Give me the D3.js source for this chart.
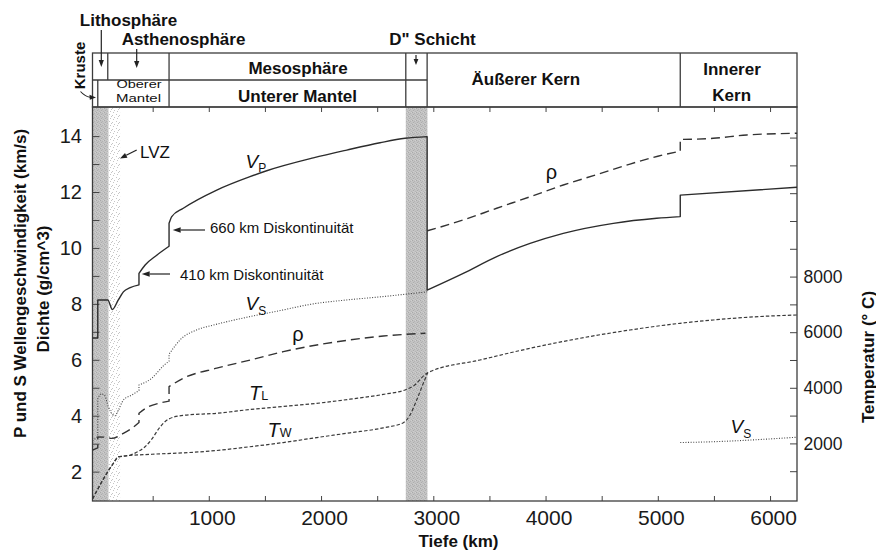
<!DOCTYPE html>
<html>
<head>
<meta charset="utf-8">
<script src="https://cdn.jsdelivr.net/npm/d3@7"></script>
<style>
  body { margin: 0; background: #fff; }
  svg { display: block; font-family: "Liberation Sans", Arial, Helvetica, sans-serif; }
</style>
</head>
<body>
<svg id="chart" width="876" height="554"></svg>
<script>
// ---- Earth model profiles: [depth km, value]; a repeated depth marks a discontinuity ----
// P-wave velocity (km/s)
const vp = [[-36, 6.78], [11, 6.78], [11, 8.14], [100, 8.14], [141, 7.80], [194, 8.14], [239, 8.43],
  [300, 8.58], [378, 8.68], [378, 9.09], [433, 9.39], [536, 9.74], [646, 10.06], [646, 10.88],
  [670, 11.12], [773, 11.42], [1071, 12.07], [1367, 12.55], [1516, 12.76], [1931, 13.22],
  [2229, 13.50], [2525, 13.76], [2748, 13.92], [2945, 13.98], [2945, 8.49], [3267, 9.09],
  [3565, 9.69], [3862, 10.16], [4158, 10.52], [4604, 10.88], [4990, 11.06], [5200, 11.12],
  [5200, 11.89], [6240, 12.17]];
// S-wave velocity, mantle (km/s)
const vsMantle = [[-36, 3.10], [11, 3.25], [11, 4.60], [40, 4.78], [70, 4.74], [105, 4.32], [141, 4.05],
  [165, 4.00], [194, 4.20], [239, 4.56], [314, 4.74], [378, 4.90], [378, 5.10], [492, 5.34],
  [600, 5.80], [646, 5.95], [646, 6.20], [700, 6.50], [744, 6.71], [893, 7.07], [1040, 7.24],
  [1338, 7.52], [1635, 7.76], [1931, 8.00], [2229, 8.14], [2525, 8.25], [2945, 8.43]];
// S-wave velocity, inner core (km/s)
const vsInnerCore = [[5200, 3.04], [5494, 3.07], [6240, 3.23]];
// density, mantle (g/cm^3)
const rhoMantle = [[-36, 2.77], [11, 2.85], [11, 3.24], [91, 3.23], [135, 3.19], [239, 3.37], [314, 3.55],
  [378, 3.76], [378, 4.09], [461, 4.32], [560, 4.45], [646, 4.52], [646, 5.04], [773, 5.34],
  [1071, 5.70], [1367, 5.99], [1664, 6.29], [1962, 6.53], [2258, 6.71], [2555, 6.85], [2930, 6.95]];
// density, core (g/cm^3)
const rhoCore = [[2945, 10.61], [3267, 11.00], [3565, 11.42], [3862, 11.83], [4158, 12.25],
  [4455, 12.62], [4752, 13.00], [5000, 13.28], [5200, 13.46], [5200, 13.88], [5494, 13.92],
  [5792, 14.04], [6240, 14.10]];
// temperature T_L (°C), continues through the core
const tempL = [[-36, 0], [150, 1284], [194, 1500], [300, 1580], [343, 1650], [432, 1880], [492, 2150],
  [560, 2560], [640, 2870], [773, 3010], [1071, 3083], [1367, 3220], [1664, 3330], [1962, 3441],
  [2258, 3590], [2555, 3763], [2763, 3946], [2822, 4065], [2950, 4543], [3416, 5000], [3862, 5421],
  [4307, 5781], [4752, 6079], [5198, 6320], [5494, 6439], [5792, 6536], [6240, 6619]];
// temperature T_W (°C), mantle
const tempW = [[-36, 0], [150, 1284], [194, 1522], [492, 1610], [773, 1660], [1071, 1745], [1367, 1880],
  [1664, 2030], [1962, 2210], [2258, 2380], [2555, 2560], [2733, 2745], [2793, 3022], [2852, 3561],
  [2911, 4161], [2950, 4543]];

// layer boundaries (km) used by the header table
const krusteKm = 11, lithoKm = 100, mesoKm = 646, dSchichtKm = 2755, cmbKm = 2945, icbKm = 5200;
// shaded depth bands (km)
const lithoBand = [-36, 108], lvzBand = [108, 210], dppBand = [2755, 2948];

// axis ticks
const depthTicks = d3.range(500, 6001, 500);
const velTicks = d3.range(2, 15, 1);
const tempTicks = d3.range(1000, 14000, 1000);

// ---- scales ----
const svg = d3.select("#chart");
const L = 92.5, R = 797, T = 107, B = 501, HT = 53, HM = 80;
const x = d3.scaleLinear().domain([-36, 6240]).range([L, R]);
const y = d3.scaleLinear().domain([0.95, 15.04]).range([B, T]);
const yT = d3.scaleLinear().domain([-72, 14100]).range([B, T]);

// ---- stipple patterns ----
const defs = svg.append("defs");
const pd = defs.append("pattern").attr("id", "stipDark").attr("patternUnits", "userSpaceOnUse")
  .attr("width", 4).attr("height", 4);
pd.append("rect").attr("width", 4).attr("height", 4).attr("fill", "#c3c3c3");
[[0, 0, "#a9a9a9"], [2, 1, "#b3b3b3"], [1, 2, "#adadad"], [3, 3, "#b6b6b6"], [3, 0, "#d0d0d0"], [1, 3, "#cccccc"]]
  .forEach(([a, b, c]) => pd.append("rect").attr("x", a).attr("y", b).attr("width", 1).attr("height", 1).attr("fill", c));
const pl = defs.append("pattern").attr("id", "stipLight").attr("patternUnits", "userSpaceOnUse")
  .attr("width", 7).attr("height", 7);
pl.append("rect").attr("width", 7).attr("height", 7).attr("fill", "#fff");
[[1, 0], [4, 2], [0, 3], [6, 4], [2, 5], [5, 6]].forEach(([a, b]) =>
  pl.append("rect").attr("x", a).attr("y", b).attr("width", 1).attr("height", 1).attr("fill", "#c6c6c6"));
defs.append("clipPath").attr("id", "plotClip").append("rect")
  .attr("x", L).attr("y", T).attr("width", R - L).attr("height", B - T);

// ---- bands ----
const bands = svg.append("g");
function band(r, fill) {
  bands.append("rect").attr("x", x(r[0])).attr("y", T).attr("width", x(r[1]) - x(r[0]))
    .attr("height", B - T).attr("fill", fill);
}
band(lithoBand, "url(#stipDark)");
band(lvzBand, "url(#stipLight)");
band(dppBand, "url(#stipDark)");

// ---- axes (ticks point inward) ----
const tickColor = "#444";
function styleAxis(g, size, color) {
  g.select(".domain").remove();
  g.selectAll(".tick line").attr("stroke", tickColor).attr("stroke-width", 1);
  g.selectAll("text").attr("font-family", "'Liberation Sans', Arial, sans-serif")
    .attr("font-size", size).attr("fill", color);
}
const axB = svg.append("g").attr("transform", `translate(0,${B})`)
  .call(d3.axisBottom(x).tickValues(depthTicks).tickSize(-5).tickPadding(9)
    .tickFormat(d => d % 1000 === 0 ? d : ""));
styleAxis(axB, 21, "#1a1a1a");
axB.selectAll("text").attr("dx", 3);
const axTop = svg.append("g").attr("transform", `translate(0,${T})`)
  .call(d3.axisTop(x).tickValues(depthTicks).tickSize(-5).tickFormat(""));
styleAxis(axTop, 10, "#000");
const axL = svg.append("g").attr("transform", `translate(${L},0)`)
  .call(d3.axisLeft(y).tickValues(velTicks).tickSize(-7).tickPadding(10.5)
    .tickFormat(d => d % 2 === 0 ? d : ""));
styleAxis(axL, 20, "#1a1a1a");
const axR = svg.append("g").attr("transform", `translate(${R},0)`)
  .call(d3.axisRight(yT).tickValues(tempTicks).tickSize(-7).tickPadding(6.5)
    .tickFormat(d => (d >= 2000 && d <= 8000 && d % 2000 === 0) ? d : ""));
styleAxis(axR, 17.5, "#1a1a1a");

// ---- frame and header table ----
const frame = svg.append("g").attr("fill", "none").attr("stroke", "#3c3c3c").attr("stroke-width", 1.3);
frame.append("rect").attr("x", L).attr("y", T).attr("width", R - L).attr("height", B - T);
frame.append("rect").attr("x", L).attr("y", HT).attr("width", R - L).attr("height", T - HT);
frame.append("line").attr("x1", L).attr("x2", x(cmbKm)).attr("y1", HM).attr("y2", HM);
function vline(km, y1, y2) {
  frame.append("line").attr("x1", x(km)).attr("x2", x(km)).attr("y1", y1).attr("y2", y2);
}
vline(lithoKm, HT, HM);
vline(krusteKm, HM, T);
[mesoKm, dSchichtKm, cmbKm, icbKm].forEach(k => vline(k, HT, T));

// ---- curves ----
function pathFor(pts, ys) {
  const segs = [];
  let cur = [pts[0]];
  for (let i = 1; i < pts.length; i++) {
    if (pts[i][0] === pts[i - 1][0]) { segs.push(cur); cur = [pts[i]]; }
    else cur.push(pts[i]);
  }
  segs.push(cur);
  const gen = d3.line().x(d => x(d[0])).y(d => ys(d[1])).curve(d3.curveMonotoneX);
  return segs.map((s, i) => { const d = gen(s); return i === 0 ? d : "L" + d.slice(1); }).join("");
}
const curves = svg.append("g").attr("clip-path", "url(#plotClip)").attr("fill", "none");
function curve(pts, ys, stroke, width, dash) {
  const p = curves.append("path").attr("d", pathFor(pts, ys)).attr("stroke", stroke)
    .attr("stroke-width", width).attr("stroke-linejoin", "round");
  if (dash) p.attr("stroke-dasharray", dash);
}
curve(tempW, yT, "#3a3a3a", 1.2, "3.5 2");
curve(tempL, yT, "#3a3a3a", 1.2, "3.5 2");
curve(rhoMantle, y, "#333", 1.4, "9 5");
curve(rhoCore, y, "#333", 1.4, "9 5");
curve(vsMantle, y, "#444", 1.1, "1 1.6");
curve(vsInnerCore, y, "#444", 1.1, "1 1.6");
curve(vp, y, "#2c2c2c", 1.4, null);

// ---- arrows ----
const ann = svg.append("g");
function arrow(x1, y1, x2, y2, head = 7, w = 2.7) {
  const dx = x2 - x1, dy = y2 - y1, len = Math.hypot(dx, dy), ux = dx / len, uy = dy / len;
  const bx = x2 - ux * head, by = y2 - uy * head;
  ann.append("line").attr("x1", x1).attr("y1", y1).attr("x2", bx).attr("y2", by)
    .attr("stroke", "#222").attr("stroke-width", 1.2);
  ann.append("path").attr("d", `M${x2},${y2}L${bx - uy * w},${by + ux * w}L${bx + uy * w},${by - ux * w}Z`)
    .attr("fill", "#222");
}
arrow(101.3, 30, 101.3, 67, 7, 2.6);
arrow(136.7, 49, 136.7, 68, 7, 2.6);
arrow(416, 55, 416, 65, 6, 2.4);
arrow(136.7, 150, 120, 158.5, 7, 2.7);
arrow(205, 230, 172.7, 230, 8, 2.8);
arrow(170, 274, 141.7, 274, 8, 2.8);
ann.append("path").attr("d", "M80.5,91.5Q85,96.5 90,97.2").attr("fill", "none")
  .attr("stroke", "#222").attr("stroke-width", 1.1);
ann.append("path").attr("d", "M96,97.6L89.5,94.8L89.8,99.8Z").attr("fill", "#222");

// ---- text ----
const txt = svg.append("g").attr("fill", "#111");
function label(s, px, py, size, weight, anchor = "middle") {
  return txt.append("text").attr("x", px).attr("y", py).attr("font-size", size)
    .attr("font-weight", weight).attr("text-anchor", anchor).text(s);
}
label("Lithosphäre", 128.5, 26, 17, "bold");
label("Asthenosphäre", 183.5, 45, 17, "bold");
label("D\" Schicht", 432.5, 45, 17, "bold");
label("Mesosphäre", 298, 74, 17, "bold");
label("Unterer Mantel", 297.5, 101.5, 17, "bold");
label("Äußerer Kern", 525.8, 85, 17, "bold");
label("Innerer", 732, 75, 17, "bold");
label("Kern", 731.7, 101, 17, "bold");
// narrow two-line cell label
label("Oberer", 139, 88.3, 11.5, "normal").attr("textLength", 45).attr("lengthAdjust", "spacingAndGlyphs");
label("Mantel", 138.5, 101.5, 11.5, "normal").attr("textLength", 45).attr("lengthAdjust", "spacingAndGlyphs");
txt.append("text").attr("transform", "translate(84.5,65.5) rotate(-90)").attr("text-anchor", "middle")
  .attr("font-size", 15).attr("font-weight", "bold").text("Kruste");

label("LVZ", 140, 158.3, 17, "normal", "start");
label("660 km Diskontinuität", 210, 233.3, 15, "normal", "start");
label("410 km Diskontinuität", 180, 280, 15, "normal", "start");

function sym(main, sub, px, py, subDy, mainSize, subSize, italic) {
  const t = txt.append("text").attr("x", px).attr("y", py).attr("font-size", mainSize);
  t.append("tspan").attr("font-style", italic ? "italic" : "normal").text(main);
  t.append("tspan").attr("font-size", subSize).attr("dy", subDy).text(sub);
}
sym("V", "P", 245.5, 168.3, 4, 19, 12, true);
sym("V", "S", 245.5, 310, 5, 19, 12, true);
sym("V", "S", 730.5, 433.3, 5, 19, 12, true);
sym("T", "L", 249, 400, 0, 20, 12.5, true);
sym("T", "W", 267.5, 436.7, 0, 20, 12.5, true);
label("ρ", 298, 340.5, 20, "normal");
label("ρ", 551.5, 178.5, 20, "normal");

// axis titles
label("Tiefe (km)", 458.5, 547, 17, "bold");
txt.append("text").attr("transform", "translate(26,283.5) rotate(-90)").attr("text-anchor", "middle")
  .attr("font-size", 17).attr("font-weight", "bold").text("P und S Wellengeschwindigkeit (km/s)");
txt.append("text").attr("transform", "translate(49,289) rotate(-90)").attr("text-anchor", "middle")
  .attr("font-size", 17).attr("font-weight", "bold").text("Dichte (g/cm^3)");
txt.append("text").attr("transform", "translate(873.5,357) rotate(-90)").attr("text-anchor", "middle")
  .attr("font-size", 17).attr("font-weight", "bold").text("Temperatur (° C)");
</script>
</body>
</html>
